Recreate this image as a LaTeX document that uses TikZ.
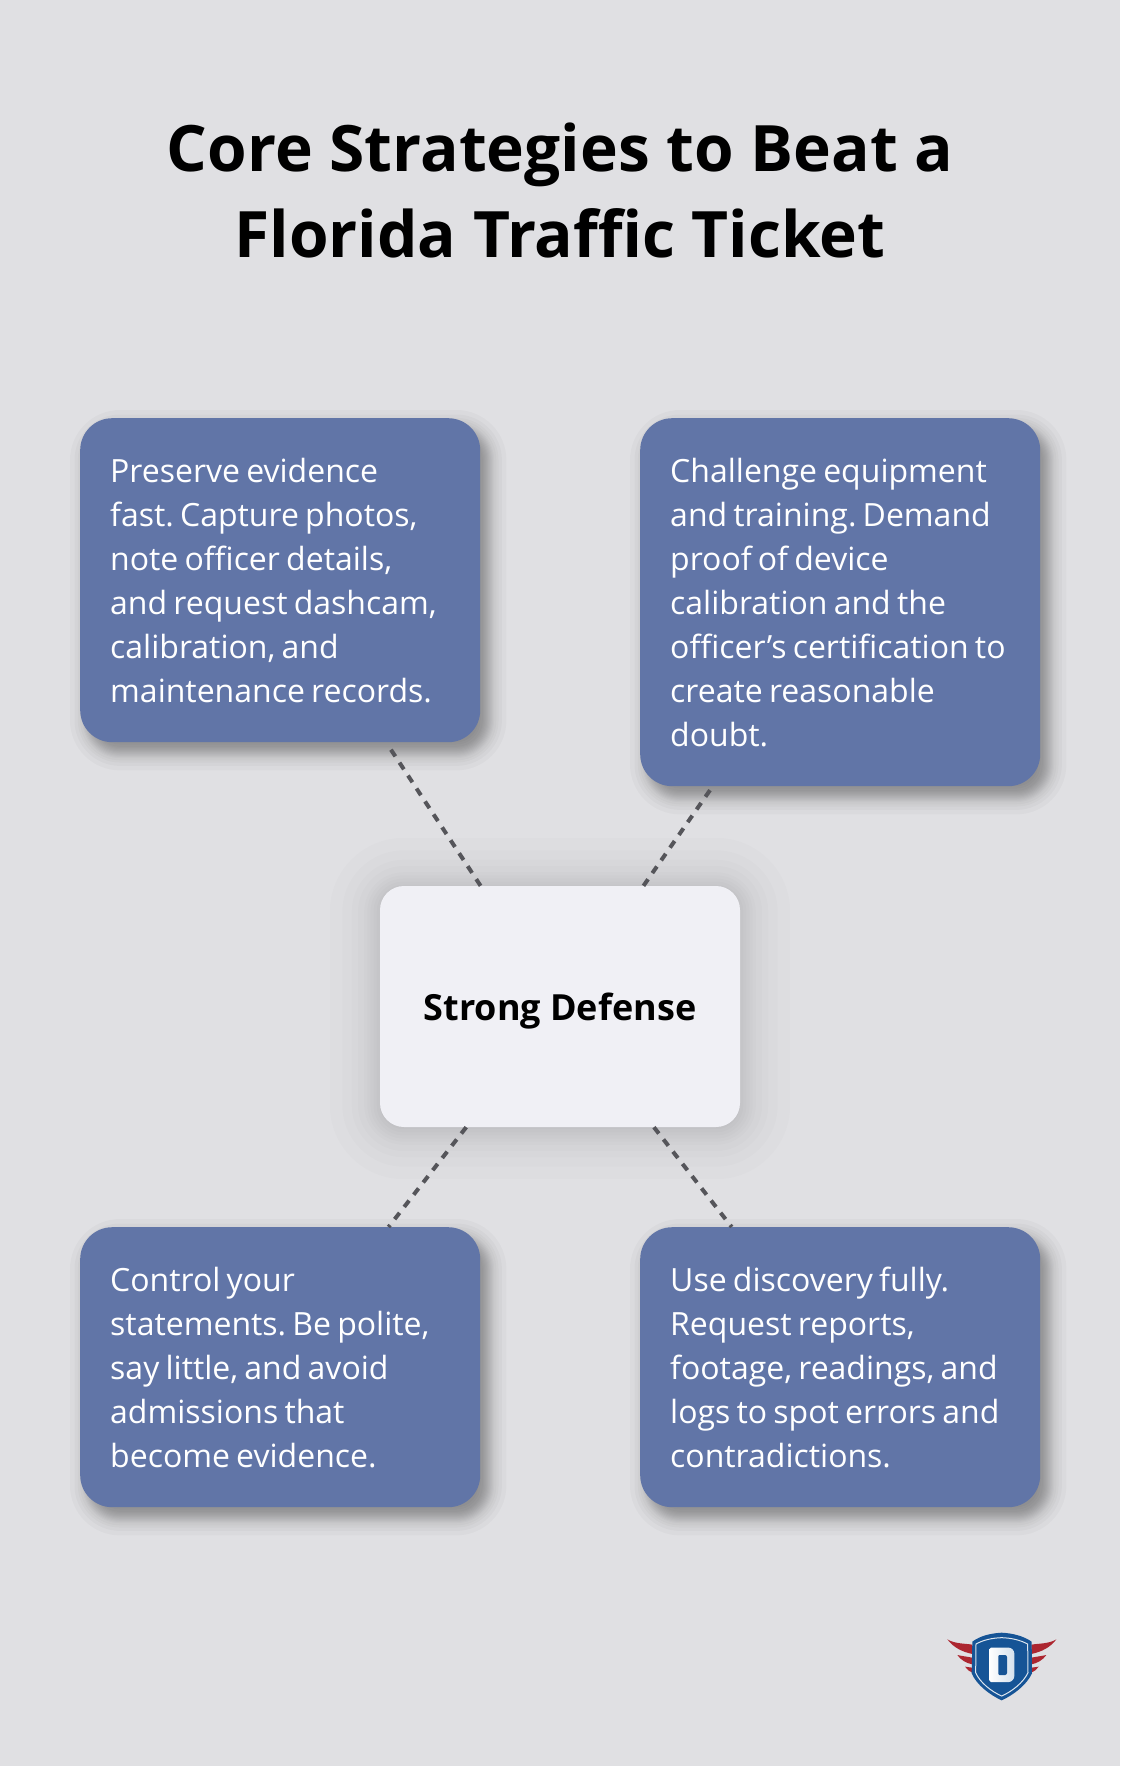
\documentclass[tikz,border=0pt]{standalone}
\usepackage{fontspec}
\setmainfont{Open Sans}
\newfontfamily\titlefont{Open Sans}[Kerning=Off]
\usetikzlibrary{calc}
\pgfdeclarelayer{back}
\pgfdeclarelayer{shade}
\pgfsetlayers{back,shade,main}
\definecolor{pagebg}{RGB}{224,224,227}
\definecolor{cardblue}{RGB}{97,117,167}
\definecolor{centerfill}{RGB}{240,240,245}
\definecolor{dashgrey}{RGB}{85,85,90}
\definecolor{wingred}{RGB}{172,38,48}
\definecolor{shieldblue}{RGB}{22,84,150}
\newcommand{\linestrut}{\hspace*{10pt}\rule[-10pt]{0pt}{44pt}}
\newcommand{\softshadow}[6]{% node, dx, dy, blur, radius, opacity
  \begin{pgfonlayer}{shade}
  \foreach \j in {-16,-12,-9,-7,-5,-4,-3,-2,-1,0,1,2,3,4,5,7,9,12,16}{
    \pgfmathsetmacro{\k}{\j*#4/16}
    \pgfmathsetmacro{\rr}{max(1,#5+\k)}
    \fill[black,fill opacity=#6,rounded corners=\rr pt]
      ($(#1.south west)+(#2-\k,#3+\k)$) rectangle ($(#1.north east)+(#2+\k,#3-\k)$);
  }
  \end{pgfonlayer}}
\tikzset{
  card/.style={anchor=north west,fill=cardblue,text=white,rounded corners=32pt,
    inner xsep=20pt,inner ysep=30pt,text width=360pt,align=left,
    font=\fontsize{32}{44}\selectfont\frenchspacing,
    execute at begin node={\spaceskip=6.2pt\relax}},
  hub/.style={fill=centerfill,text=black,rounded corners=24pt,minimum width=360pt,
    minimum height=241pt,inner sep=0pt,text height=28pt,text depth=0pt,
    font=\fontsize{36}{44}\selectfont\bfseries},
  heading/.style={text=black,align=center,inner sep=0pt,
    font=\titlefont\fontsize{64}{86}\selectfont\bfseries\frenchspacing},
  tie/.style={draw=dashgrey,line width=4pt,dash pattern=on 8pt off 7.5pt},
  tiegap/.style={tie,shorten >=3pt}
}
\begin{document}
\begin{tikzpicture}[x=1pt,y=-1pt]
\begin{pgfonlayer}{back}
\fill[pagebg] (0,0) rectangle (1120,1766);
\end{pgfonlayer}
\useasboundingbox (0,0) rectangle (1120,1766);

\node[heading] (title) at (560,190) {Core Strategies to Beat a\\Florida Traffic Ticket};

\node[card] (tl) at (80,418) {\linestrut Preserve evidence\\\linestrut fast. Capture photos,\\\linestrut note officer details,\\\linestrut and request dashcam,\\\linestrut calibration, and\\\linestrut maintenance records.};
\node[card] (tr) at (640,418) {\linestrut Challenge equipment\\\linestrut and training. Demand\\\linestrut proof of device\\\linestrut calibration and the\\\linestrut officer’s certification to\\\linestrut create reasonable\\\linestrut doubt.};
\node[card] (bl) at (80,1227) {\linestrut Control your\\\linestrut statements. Be polite,\\\linestrut say little, and avoid\\\linestrut admissions that\\\linestrut become evidence.};
\node[card] (br) at (640,1227) {\linestrut Use discovery fully.\\\linestrut Request reports,\\\linestrut footage, readings, and\\\linestrut logs to spot errors and\\\linestrut contradictions.};
\node[hub] (hub) at (560,1006.5) {Strong Defense};

\softshadow{tl}{8}{10}{18}{32}{0.024}
\softshadow{tr}{8}{10}{18}{32}{0.024}
\softshadow{bl}{8}{10}{18}{32}{0.024}
\softshadow{br}{8}{10}{18}{32}{0.024}
\softshadow{hub}{0}{2}{50}{24}{0.012}

\draw[tiegap] (hub) -- (tl);
\draw[tiegap] (hub) -- (tr);
\draw[tie] (hub) -- (bl);
\draw[tie] (hub) -- (br);

% logo
\begin{scope}[shift={(920,1610)},x=0.3333pt,y=-0.3333pt]
\foreach \s in {0,1}{
\begin{scope}[xscale={\s==0 ? 1 : -1},shift={(\s*-491,0)}]
\fill[wingred] (82,88) .. controls (105,102) and (135,100) .. (157,104) -- (157,132) .. controls (125,125) and (100,112) .. cycle;
\fill[wingred] (112,135) .. controls (125,138) and (142,140) .. (157,143) -- (157,163) .. controls (140,160) and (122,150) .. cycle;
\fill[wingred] (135,170) .. controls (142,171) and (150,172) .. (157,173) -- (157,188) .. controls (148,185) and (141,178) .. cycle;
\end{scope}}
\fill[shieldblue] (245,68) .. controls (210,70) and (180,78) .. (157,95)
  -- (155,190) .. controls (170,225) and (210,255) .. (245,271)
  .. controls (280,255) and (320,225) .. (336,190) -- (335,95)
  .. controls (310,78) and (280,70) .. cycle;
\draw[white!85!shieldblue,line width=1pt] (245,83) .. controls (215,84) and (190,90) .. (168,102)
  -- (167,188) .. controls (180,218) and (215,245) .. (245,258)
  .. controls (275,245) and (310,218) .. (324,188) -- (323,102)
  .. controls (300,90) and (275,84) .. cycle;
\shade[left color=white,right color=white!82!shieldblue,rounded corners=1.5pt] (208,113) -- (262,113) .. controls (275,113) and (283,122) .. (283,135) -- (283,193) .. controls (283,207) and (275,216) .. (262,216) -- (208,216) -- cycle;
\fill[shieldblue,rounded corners=1pt] (235,135) -- (235,195) -- (253,195) .. controls (258,195) and (261,191) .. (261,186) -- (261,144) .. controls (261,139) and (258,135) .. (253,135) -- cycle;
\end{scope}
\end{tikzpicture}
\end{document}
